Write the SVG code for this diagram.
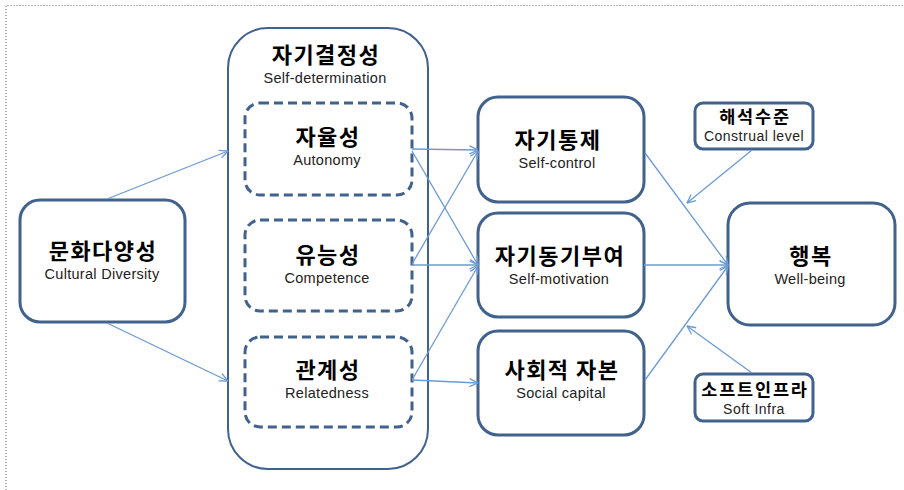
<svg xmlns="http://www.w3.org/2000/svg" width="904" height="490" viewBox="0 0 904 490">
<style>
.box{fill:#fff;stroke:#41628c;stroke-width:3}
.cont{fill:#fff;stroke:#41628c;stroke-width:2}
.dash{fill:#fff;stroke:#41628c;stroke-width:3;stroke-dasharray:9 5}
.ko{font-family:"Noto Sans CJK KR","Noto Sans",sans-serif;font-weight:bold;font-size:22px;letter-spacing:1.5px;fill:#000;text-anchor:middle}
.ks{font-family:"Noto Sans CJK KR","Noto Sans",sans-serif;font-weight:bold;font-size:17.5px;letter-spacing:1.8px;fill:#000;text-anchor:middle}
.en{font-family:"Liberation Sans",Arial,sans-serif;font-size:14.5px;letter-spacing:0.3px;fill:#222;text-anchor:middle}
.es{font-family:"Liberation Sans",Arial,sans-serif;font-size:14px;letter-spacing:0.5px;fill:#222;text-anchor:middle}
.ln{fill:none;stroke:#6b9ad6;stroke-width:1.3;marker-end:url(#ah)}
</style>
<defs>
<marker id="ah" viewBox="0 0 10 10" refX="9.5" refY="5" markerWidth="10" markerHeight="10" markerUnits="userSpaceOnUse" orient="auto">
<path d="M1,1 L9.5,5 L1,9" fill="none" stroke="#6b9ad6" stroke-width="1.3"/>
</marker>
</defs>
<rect width="904" height="490" fill="#fff"/>
<path d="M6,490 V5.5 H904" fill="none" stroke="#666" stroke-width="1" stroke-dasharray="1 2"/>

<g id="container-self-determination">
<rect class="cont" x="228" y="28" width="200" height="441" rx="40"/>
<text class="ko" x="326" y="63">자기결정성</text>
<text class="en" x="325" y="83">Self-determination</text>
</g>
<g id="node-autonomy">
<rect class="dash" x="245" y="103" width="167" height="92" rx="15"/>
<text class="ko" x="328" y="145">자율성</text>
<text class="en" x="327" y="164.5">Autonomy</text>
</g>
<g id="node-competence">
<rect class="dash" x="245" y="220" width="167" height="91" rx="15"/>
<text class="ko" x="328" y="263">유능성</text>
<text class="en" x="327" y="282.5">Competence</text>
</g>
<g id="node-relatedness">
<rect class="dash" x="245" y="337" width="167" height="90" rx="15"/>
<text class="ko" x="328" y="378">관계성</text>
<text class="en" x="327" y="397.5">Relatedness</text>
</g>
<g id="node-cultural-diversity">
<rect class="box" x="20" y="200" width="165" height="122" rx="20"/>
<text class="ko" x="103" y="259">문화다양성</text>
<text class="en" x="102" y="278.5">Cultural  Diversity</text>
</g>
<g id="node-self-control">
<rect class="box" x="478" y="97" width="166" height="105" rx="20"/>
<text class="ko" x="558" y="148">자기통제</text>
<text class="en" x="557" y="167.5">Self-control</text>
</g>
<g id="node-self-motivation">
<rect class="box" x="478" y="213" width="166" height="104" rx="20"/>
<text class="ko" x="560" y="264">자기동기부여</text>
<text class="en" x="559" y="283.5">Self-motivation</text>
</g>
<g id="node-social-capital">
<rect class="box" x="478" y="331" width="166" height="104" rx="20"/>
<text class="ko" x="562" y="378">사회적 자본</text>
<text class="en" x="561" y="397.5">Social  capital</text>
</g>
<g id="node-well-being">
<rect class="box" x="728" y="203" width="167" height="122" rx="22"/>
<text class="ko" x="811" y="264">행복</text>
<text class="en" x="810" y="283.5">Well-being</text>
</g>
<g id="node-construal-level">
<rect class="box" x="695" y="103" width="118" height="46" rx="8"/>
<text class="ks" x="755" y="123">해석수준</text>
<text class="es" x="754" y="141">Construal level</text>
</g>
<g id="node-soft-infra">
<rect class="box" x="695" y="374" width="118" height="47" rx="8"/>
<text class="ks" x="755" y="395.5">소프트인프라</text>
<text class="es" x="754" y="413.5">Soft Infra</text>
</g>

<g id="connectors">
<path class="ln" d="M107,199 L228,151"/>
<path class="ln" d="M107,323 L228,381"/>
<path class="ln" d="M412,149 L478,150"/>
<path class="ln" d="M412,151 L478,265"/>
<path class="ln" d="M412,264 L478,151"/>
<path class="ln" d="M412,265 L478,265"/>
<path class="ln" d="M412,380 L478,266"/>
<path class="ln" d="M412,380 L478,383"/>
<path class="ln" d="M645,153 L728,265"/>
<path class="ln" d="M644,265 L728,265"/>
<path class="ln" d="M645,380 L728,266"/>
<path class="ln" d="M752,150 L687,203"/>
<path class="ln" d="M752,373 L687,326"/>
</g>
</svg>
